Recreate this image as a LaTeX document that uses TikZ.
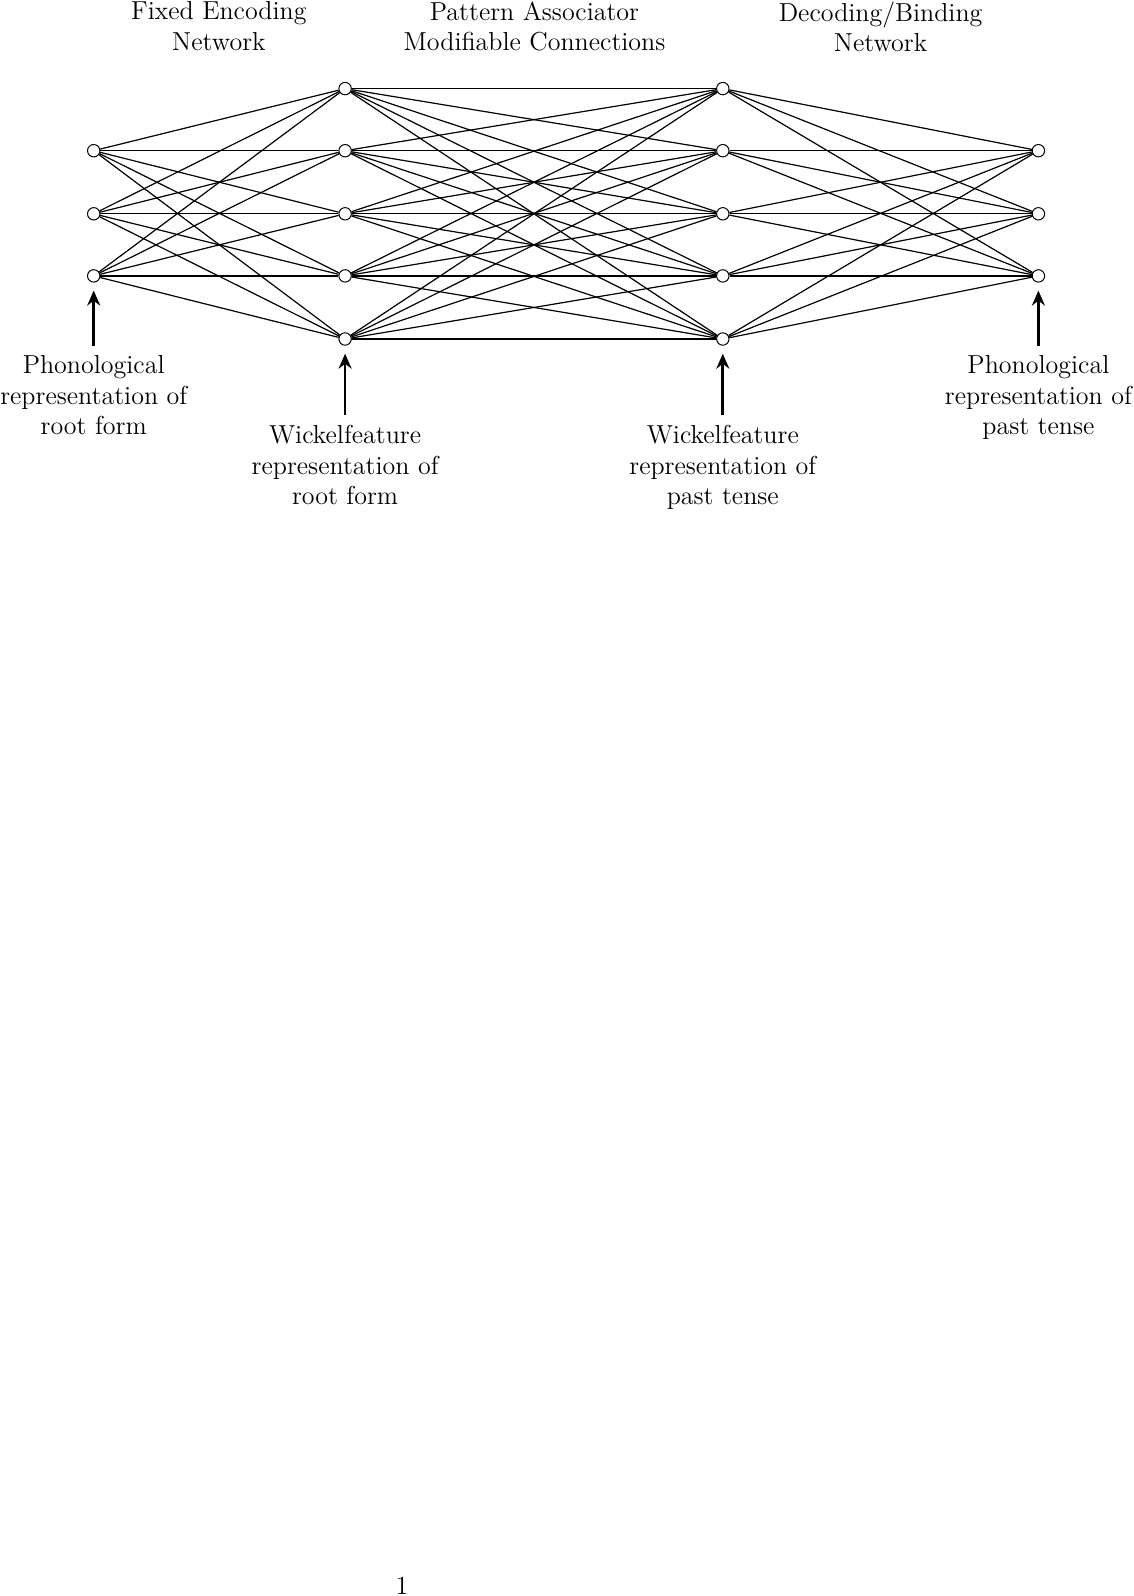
\documentclass[tikz,border=0pt]{standalone}
\usetikzlibrary{arrows.meta}
\begin{document}
\begin{tikzpicture}[x=0.5pt,y=-0.5pt,
  unit/.style={circle,draw,fill=white,inner sep=0pt,minimum size=6.2pt,line width=0.5pt},
  conn/.style={line width=0.6pt},
  arr/.style={-{Stealth[length=7.5pt,width=6.5pt,inset=2.5pt]},line width=1.35pt,shorten >=4pt},
  lbl/.style={align=center,anchor=north,font=\fontsize{13}{15.2}\selectfont}]
\useasboundingbox (0,0) rectangle (1134,1596);
% layers
\foreach \i/\y in {1/150.7,2/213.8,3/275.9}{
  \node[unit] (L\i) at (93.7,\y) {};
  \node[unit] (R\i) at (1038.4,\y) {};
}
\foreach \i/\y in {1/88.6,2/150.7,3/213.8,4/275.9,5/339.0}{
  \node[unit] (H\i) at (345.1,\y) {};
  \node[unit] (O\i) at (722.8,\y) {};
}
% connections
\foreach \i in {1,2,3}{\foreach \j in {1,...,5}{
  \draw[conn] (L\i) -- (H\j);
  \draw[conn] (O\j) -- (R\i);
}}
\foreach \i in {1,...,5}{\foreach \j in {1,...,5}{
  \draw[conn] (H\i) -- (O\j);
}}
% titles
\node[lbl] (t1) at (218.9,-5.5) {Fixed Encoding\\Network};
\node[lbl] (t2) at (534.5,-5.5) {Pattern Associator\\Modifiable Connections};
\node[lbl] (t3) at (880.6,-5.5) {Decoding/Binding\\Network};
% bottom labels
\node[lbl] (b1) at (93.7,348.5) {Phonological\\representation of\\root form};
\node[lbl] (b2) at (345.1,418.5) {Wickelfeature\\representation of\\root form};
\node[lbl] (b3) at (722.8,418.5) {Wickelfeature\\representation of\\past tense};
\node[lbl] (b4) at (1038.4,348.5) {Phonological\\representation of\\past tense};
% arrows
\coordinate (a1) at (93.7,346);
\coordinate (a2) at (345.1,415);
\coordinate (a3) at (722.8,415);
\coordinate (a4) at (1038.4,346);
\draw[arr] (a1) -- (L3);
\draw[arr] (a2) -- (H5);
\draw[arr] (a3) -- (O5);
\draw[arr] (a4) -- (R3);
% page number
\node[font=\fontsize{13}{15.2}\selectfont,anchor=base,inner sep=0pt] (pg) at (402,1594) {1};
\end{tikzpicture}
\end{document}
